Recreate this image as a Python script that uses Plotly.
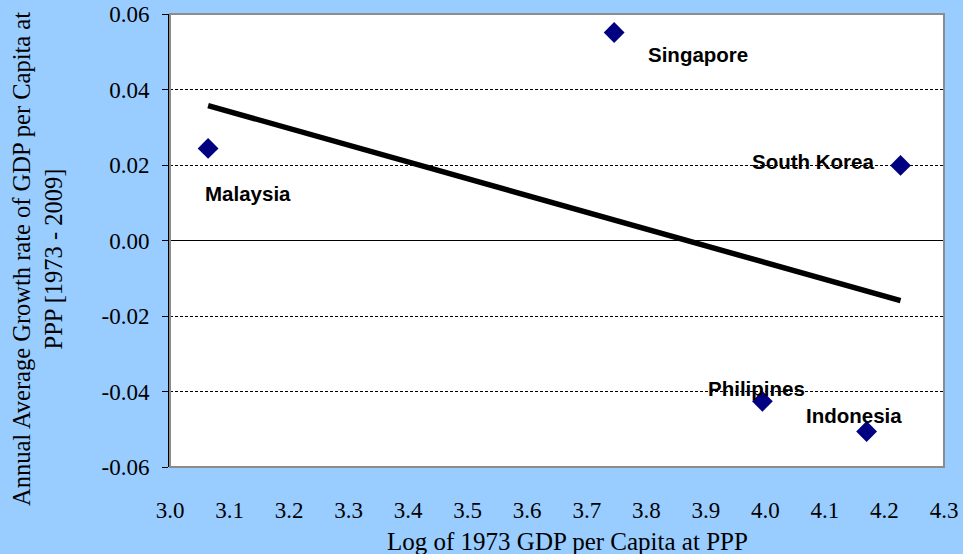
import numpy as np
import plotly.graph_objects as go

countries = ["Malaysia", "Singapore", "South Korea", "Philipines", "Indonesia"]
log_gdp_1973 = [3.064, 3.746, 4.227, 3.995, 4.170]
growth_rate = [0.0244, 0.0551, 0.0199, -0.0426, -0.0506]

# label offsets in px relative to each point
label_dx = [40, 84, -88, -6, -13]
label_dy = [-45, -22, 4, 13, 16]

x_ticks = [3.0, 3.1, 3.2, 3.3, 3.4, 3.5, 3.6, 3.7, 3.8, 3.9, 4.0, 4.1, 4.2, 4.3]
y_ticks = [-0.06, -0.04, -0.02, 0.0, 0.02, 0.04, 0.06]
y_tick_text = ["-0.06", "-0.04", "-0.02", "0.00", "0.02", "0.04", "0.06"]

# least squares trend line over the data range
slope, intercept = np.polyfit(log_gdp_1973, growth_rate, 1)
trend_x = [min(log_gdp_1973), max(log_gdp_1973)]
trend_y = [slope * v + intercept for v in trend_x]

serif = "Liberation Serif, Times New Roman, serif"
sans = "Liberation Sans, Arial, sans-serif"

fig = go.Figure()
fig.add_trace(go.Scatter(x=trend_x, y=trend_y, mode="lines",
                         line=dict(color="black", width=5.5), showlegend=False,
                         hoverinfo="skip"))
fig.add_trace(go.Scatter(x=log_gdp_1973, y=growth_rate, mode="markers",
                         marker=dict(symbol="diamond", size=16, color="#000080"),
                         text=countries, showlegend=False))

for name, xv, yv, dx, dy in zip(countries, log_gdp_1973, growth_rate, label_dx, label_dy):
    fig.add_annotation(x=xv, y=yv, text="<b>%s</b>" % name, showarrow=False,
                       xshift=dx, yshift=dy,
                       font=dict(family=sans, size=20.5, color="black"))

# axis titles
fig.add_annotation(xref="paper", yref="paper", x=0.514, y=-0.165,
                   xanchor="center", yanchor="middle",
                   text="Log of 1973 GDP per Capita at PPP", showarrow=False,
                   font=dict(family=serif, size=25, color="black"))
fig.add_annotation(xref="paper", yref="paper", x=-0.172, y=0.459, textangle=-90,
                   xanchor="center", yanchor="middle",
                   text="Annual Average Growth rate of GDP per Capita at<br>PPP [1973 - 2009]",
                   showarrow=False, font=dict(family=serif, size=24.5, color="black"))

# grey plot border
fig.add_shape(type="rect", xref="paper", yref="paper", x0=0, y0=0, x1=1, y1=1,
              line=dict(color="#8c8c8c", width=2), layer="above")

fig.update_layout(
    width=963, height=554,
    margin=dict(l=170, r=19, t=14, b=87),
    paper_bgcolor="#99CCFF", plot_bgcolor="white",
    font=dict(family=serif, size=23, color="black"),
)
fig.update_xaxes(range=[3.0, 4.3], tickvals=x_ticks, tickformat=".1f",
                 showgrid=False, zeroline=False, showline=False, ticks="",
                 ticklabelstandoff=27, automargin=False,
                 tickfont=dict(family=serif, size=23))
fig.update_yaxes(range=[-0.06, 0.06], tickvals=y_ticks, ticktext=y_tick_text,
                 showgrid=True, gridcolor="black", griddash="3px,2px", gridwidth=1,
                 zeroline=True, zerolinecolor="black", zerolinewidth=1,
                 showline=True, linecolor="black", linewidth=2,
                 ticks="outside", ticklen=6, tickcolor="black", tickwidth=1,
                 ticklabelstandoff=8, automargin=False,
                 tickfont=dict(family=serif, size=23))

# drop the default page margin so the figure fills the window
fig.write_html("out.html", config={"displayModeBar": False},
               post_script="document.body.style.margin='0';")
